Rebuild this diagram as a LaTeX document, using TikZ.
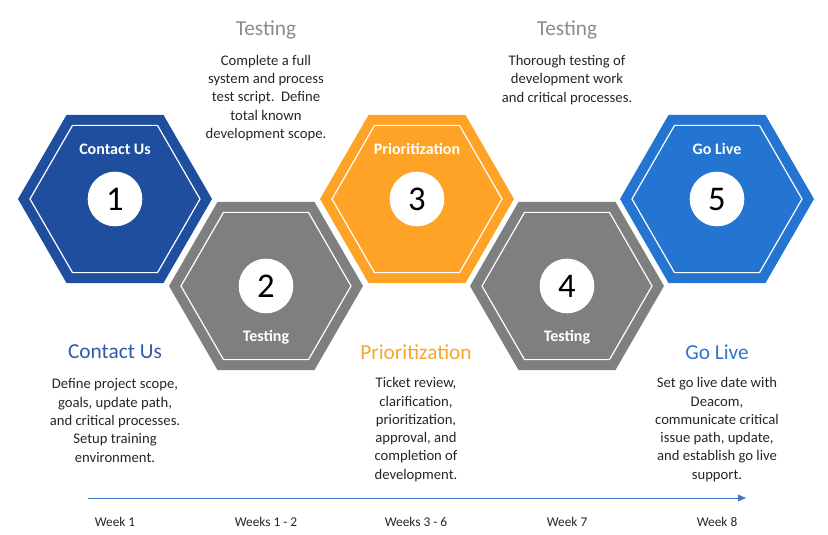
\documentclass[tikz,border=0pt]{standalone}
\usepackage{fontspec}
\setmainfont{Carlito}
\usepackage{tikz}
\usetikzlibrary{shapes.geometric,arrows.meta}

\definecolor{hexblue}{RGB}{31,78,158}
\definecolor{hexgray}{RGB}{127,127,127}
\definecolor{hexorange}{RGB}{255,163,38}
\definecolor{hexlight}{RGB}{36,116,210}
\definecolor{headgray}{RGB}{140,140,140}
\definecolor{headblue}{RGB}{47,90,170}
\definecolor{headorange}{RGB}{247,165,45}
\definecolor{headlight}{RGB}{46,117,208}
\definecolor{bodytext}{RGB}{38,38,38}
\definecolor{lineblue}{RGB}{68,114,196}

\tikzset{
  hexout/.style={regular polygon,regular polygon sides=6,minimum size=145.5pt,inner sep=0pt,fill=#1},
  hexin/.style={regular polygon,regular polygon sides=6,minimum size=127.5pt,inner sep=0pt,draw=white,line width=0.9pt},
  numdisc/.style={circle,fill=white,minimum size=41pt,inner sep=0pt,font=\fontsize{26}{30}\selectfont},
  hexlabel/.style={text=white,inner sep=0pt,font=\bfseries\fontsize{12}{14}\selectfont},
  head/.style={inner sep=0pt,font=\fontsize{16}{19}\selectfont},
  body/.style={inner sep=0pt,align=center,text=bodytext,font=\fontsize{11}{13.7}\selectfont},
  week/.style={inner sep=0pt,text=bodytext,font=\fontsize{10}{12}\selectfont},
  timeline/.style={draw=lineblue,line width=0.75pt,-{Triangle[length=6pt,width=5pt]}}
}

\begin{document}
\begin{tikzpicture}[x=0.75pt,y=-0.75pt]
\useasboundingbox (0,0) rectangle (828,535);

% hexagons
\foreach \i/\x/\y/\col/\lab/\dy in {1/115/199/hexblue/Contact Us/-50,
    2/266/286/hexgray/Testing/51,
    3/417/199/hexorange/Prioritization/-50,
    4/567/286/hexgray/Testing/51,
    5/717/199/hexlight/Go Live/-50} {
  \node[hexout=\col] (hex\i) at (\x,\y) {};
  \node[hexin] (rim\i) at (\x,\y) {};
  \node[numdisc] (num\i) at (\x,\y) {\i};
  \node[hexlabel] (tag\i) at (\x,\y+\dy) {\lab};
}

% texts above
\node[head,text=headgray] (testahead) at (266,30) {Testing};
\node[body] (testatext) at (266,98) {Complete a full\\system and process\\test script.\ \ Define\\total known\\development scope.};
\node[head,text=headgray] (testbhead) at (567,30) {Testing};
\node[body] (testbtext) at (567,80) {Thorough testing of\\development work\\and critical processes.};

% texts below
\node[head,text=headblue] (contacthead) at (115,352) {Contact Us};
\node[body] (contacttext) at (115,420.5) {Define project scope,\\goals, update path,\\and critical processes.\\Setup training\\environment.};
\node[head,text=headorange] (priorhead) at (416,352) {Prioritization};
\node[body] (priortext) at (416,429.5) {Ticket review,\\clarification,\\prioritization,\\approval, and\\completion of\\development.};
\node[head,text=headlight] (livehead) at (717,352) {Go Live};
\node[body] (livetext) at (717,429.5) {Set go live date with\\Deacom,\\communicate critical\\issue path, update,\\and establish go live\\support.};

% timeline
\coordinate (tstart) at (88,498);
\coordinate (tend) at (746,498);
\draw[timeline] (tstart) -- (tend);
\foreach \i/\x/\w in {1/115/Week 1,2/266/Weeks 1 - 2,3/416/Weeks 3 - 6,4/567/Week 7,5/717/Week 8}
  \node[week] (week\i) at (\x,522) {\w};
\end{tikzpicture}
\end{document}
